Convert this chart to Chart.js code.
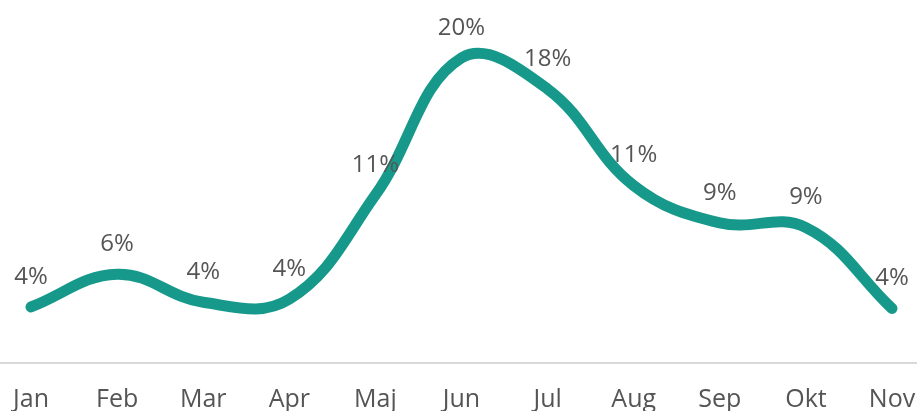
<!DOCTYPE html>
<html>
<head>
<meta charset="utf-8">
<script src="https://cdn.jsdelivr.net/npm/chart.js@4/dist/chart.umd.min.js"></script>
<style>
  html, body { margin: 0; padding: 0; background: #fff; }
  #wrap { width: 917px; height: 411px; }
</style>
</head>
<body>
<div id="wrap"><canvas id="myChart"></canvas></div>
<script>
const months = ["Jan", "Feb", "Mar", "Apr", "Maj", "Jun", "Jul", "Aug", "Sep", "Okt", "Nov"];
const shares = [3.6, 5.7, 3.9, 4.1, 10.8, 19.6, 17.6, 11.4, 9.0, 8.7, 3.5];

const lineColor = "#16998a";
const textColor = "#555555";
const fontName = "'Open Sans', Lato, sans-serif";

// value labels above each point
const pointLabels = {
  id: "pointLabels",
  afterDatasetsDraw(chart) {
    const ctx = chart.ctx;
    const meta = chart.getDatasetMeta(0);
    ctx.save();
    ctx.font = "24px " + fontName;
    ctx.fillStyle = textColor;
    ctx.textAlign = "center";
    ctx.textBaseline = "middle";
    meta.data.forEach((pt, i) => {
      ctx.fillText(Math.round(shares[i]) + "%", pt.x, pt.y - 30);
    });
    ctx.restore();
  }
};

let points = shares.map((v, i) => ({ x: i, y: v }));

let ctx = document.getElementById("myChart").getContext("2d");
let chart = new Chart(ctx, {
  type: "line",
  data: {
    datasets: [
      {
        data: points,
        borderColor: lineColor,
        borderWidth: 11,
        borderCapStyle: "round",
        borderJoinStyle: "round",
        tension: 0.4,
        pointRadius: 0,
        fill: false,
      },
    ],
  },
  options: {
    responsive: true,
    maintainAspectRatio: false,
    animation: false,
    layout: { padding: { top: 5, left: 0, right: 0, bottom: -26 } },
    plugins: { legend: { display: false }, tooltip: { enabled: false } },
    scales: {
      x: {
        type: "linear",
        min: -0.36,
        max: 10.29,
        afterBuildTicks: (scale) => {
          scale.ticks = months.map((m, i) => ({ value: i }));
        },
        afterFit: (scale) => {
          scale.paddingLeft = 0;
          scale.paddingRight = 0;
        },
        grid: { display: false, drawTicks: false },
        border: { display: true, color: "#d9d9d9", width: 2 },
        ticks: {
          autoSkip: false,
          maxRotation: 0,
          padding: 22,
          color: textColor,
          font: { family: fontName, size: 25 },
          callback: (v) => months[v],
        },
      },
      y: {
        display: false,
        min: 0,
        max: 23,
      },
    },
  },
  plugins: [pointLabels],
});
</script>
</body>
</html>
